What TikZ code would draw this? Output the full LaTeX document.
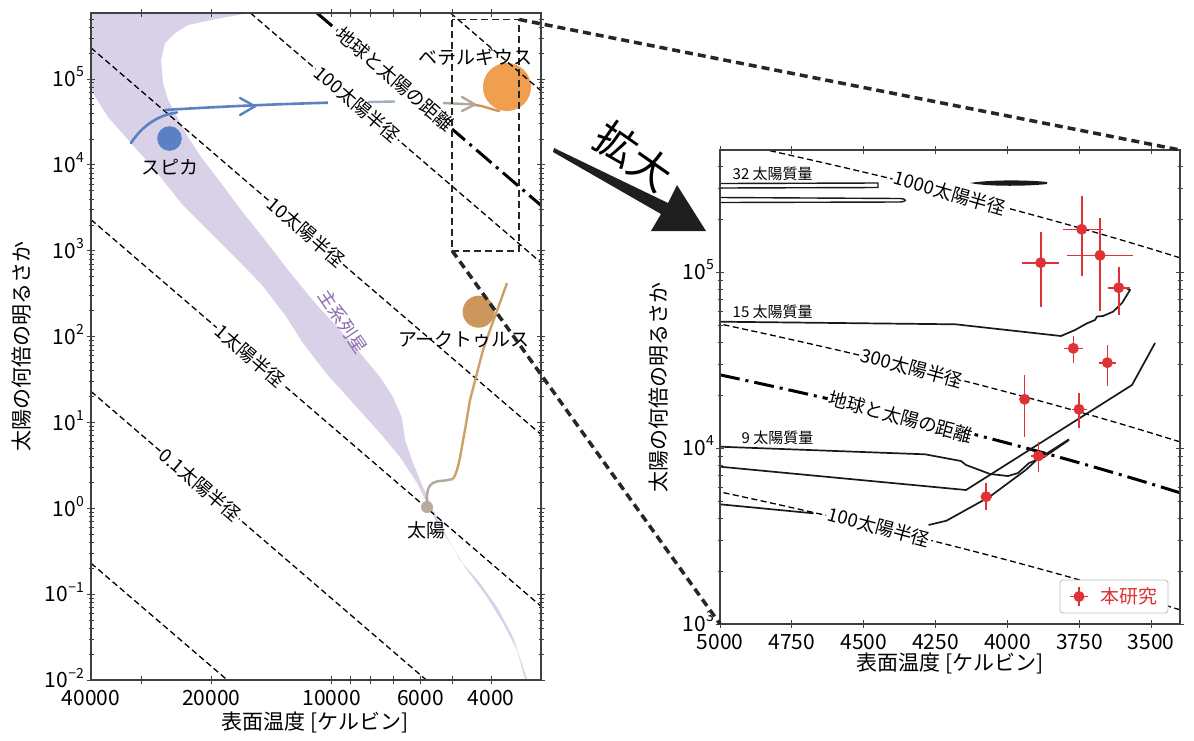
\documentclass[tikz,border=0pt]{standalone}
\usepackage{fontspec}
\setmainfont{Noto Sans CJK JP}
\newcommand\fsz[1]{\fontsize{#1}{#1}\selectfont}
\newcommand\pw[1]{10\raisebox{0.85ex}{\fsz{14}#1}}
\definecolor{msband}{RGB}{216,209,231}
\definecolor{mspurple}{RGB}{140,108,176}
\definecolor{spblue}{RGB}{92,128,196}
\definecolor{spfade}{RGB}{160,175,200}
\definecolor{betel}{RGB}{240,158,80}
\definecolor{arct}{RGB}{205,150,90}
\definecolor{suncol}{RGB}{182,172,152}
\definecolor{trgray}{RGB}{175,168,155}
\definecolor{trtan}{RGB}{205,160,105}
\definecolor{ourred}{RGB}{222,50,55}
\newcommand\datapt[6]{%
  \draw[errbar] (#3,#2) -- (#4,#2);
  \draw[errbar] (#1,#5) -- (#1,#6);
  \fill[ourred] (#1,#2) circle (5.5);}
\begin{document}
\begin{tikzpicture}[x=1pt,y=-1pt,
  radline/.style={line width=1.3pt, dash pattern=on 6pt off 3.5pt},
  earthline/.style={line width=3pt, dash pattern=on 20pt off 6pt on 3pt off 6pt},
  zoomline/.style={line width=3.5pt, dash pattern=on 8pt off 5pt, black!85},
  rectline/.style={line width=1.7pt, dash pattern=on 7pt off 4pt, black!85},
  rlab/.style={fill=white, inner sep=1.5pt, font=\fsz{18.5}},
  axisline/.style={line width=1.1pt, black!75},
  tickline/.style={line width=0.9pt, black!75},
  ticklab/.style={font=\fsz{21}, inner sep=0pt},
  starlab/.style={font=\fsz{19}},
  masslab/.style={font=\fsz{15}, anchor=west, inner sep=0pt},
  track/.style={line width=1.7pt, black!90},
  errbar/.style={line width=1.6pt, ourred},
]
\useasboundingbox (0,0) rectangle (1194,740);
\fill[white] (0,0) rectangle (1194,740);

% ================= LEFT PANEL =================
% main sequence band
\fill[msband] (91,13) -- (250,13) -- (221,18) -- (188,25) -- (175,33) -- (165,43) -- (161,60) -- (163,83) -- (168,100) -- (175,113) -- (188,137) -- (201,157) -- (221,183) -- (241,210) -- (265,240) -- (288,270) -- (315,303) -- (340,330) -- (360,353) -- (380,377) -- (393,397) -- (402,418) -- (405,440) -- (413,463) -- (423,487) -- (433,510) -- (447,537) -- (460,560) -- (480,583) -- (497,607) -- (513,637) -- (527,679) -- (525,679) -- (517,650) -- (503,623) -- (487,597) -- (467,570) -- (450,543) -- (437,523) -- (427,503) -- (417,483) -- (400,457) -- (380,433) -- (353,403) -- (326,373) -- (303,343) -- (285,315) -- (262,285) -- (235,257) -- (208,230) -- (181,203) -- (155,170) -- (131,143) -- (108,117) -- (91,90) -- cycle;
\node[font=\fsz{18}, text=mspurple, rotate=-56] (mslab) at (343,322) {主系列星};

% star circles
\fill[betel] (507,87) circle (24);
\fill[arct] (478.6,311.7) circle (16);
\fill[spblue] (169.5,138.5) circle (12.3);

% radius lines
\draw[radline] (91,563.2) -- (227.3,680);
\draw[radline] (91,391.4) -- (426.3,680);
\draw[radline] (91,219.6) -- (541,606.2);
\draw[radline] (91,47.8) -- (541,434.4);
\draw[radline] (250.5,13) -- (541,262.6);
\draw[radline] (450.5,13) -- (541,90.8);
\draw[earthline] (317,13) -- (541,205.4);

\node[rlab, rotate=-40.66] (l01) at (200,485) {0.1太陽半径};
\node[rlab, rotate=-40.66] (l1) at (250,356) {1太陽半径};
\node[rlab, rotate=-40.66] (l10) at (306,232) {10太陽半径};
\node[rlab, rotate=-40.66] (l100) at (357,104) {100太陽半径};
\node[rlab, rotate=-40.66] (learth) at (395,79.5) {地球と太陽の距離};

% sun
\fill[suncol] (427,507) circle (6);

% Spica track
\draw[spblue, line width=2.6pt, line cap=round] (131,143) .. controls (142,126) and (158,115) .. (177,112.5);
\draw[spblue, line width=2.6pt] (165,110) .. controls (220,106.5) and (280,104) .. (328,102.7);
\draw[spblue, line width=2.4pt, line cap=round, line join=round] (240,98) -- (255,106.3) -- (240,115);
\draw[spfade, line width=2.4pt] (368,102) -- (395,101.5);
\draw[trgray, line width=2.4pt] (443,103) -- (475,104.5);
\draw[trgray, line width=2.4pt, line cap=round, line join=round] (462,97) -- (475,104.5) -- (462,111);
\draw[arct, line width=2.4pt] (475,105) .. controls (485,106) and (492,110) .. (500,111);

% Arcturus track
\draw[trtan, line width=2.4pt] (453,479) .. controls (459,470) and (461,450) .. (465,430) -- (470,400) -- (477,373) -- (483,350) -- (490,330) -- (507,283);
\draw[trgray, line width=2.4pt] (427,502) .. controls (426,484) and (432,481) .. (445,480.5) -- (453,479);

% zoom rectangle
\draw[rectline] (452.2,19.5) rectangle (519.2,250.8);
\coordinate (rectTR) at (519.2,19.5);
\coordinate (rectBL) at (452.2,250.8);

% star labels
\node[starlab] (spica) at (169.7,166.7) {スピカ};
\node[starlab] (betelg) at (475,56.7) {ベテルギウス};
\node[starlab] (arcturus) at (464,340) {アークトゥルス};
\node[starlab] (sun) at (426.7,530) {太陽};

% axes box & ticks
\draw[axisline] (91,13) rectangle (541,680);
\foreach \n in {-2,...,5} {
  \pgfmathsetmacro\yy{508.5-85.9*\n}
  \draw[tickline] (87,\yy) -- (95,\yy);
  \draw[tickline] (537,\yy) -- (545,\yy);
  \foreach \k in {2,...,9} {
    \pgfmathsetmacro\ym{508.5-85.9*(\n+log10(\k))}
    \pgfmathparse{\ym>14?1:0}
    \ifnum\pgfmathresult=1
      \draw[tickline] (88.5,\ym) -- (93.5,\ym);
      \draw[tickline] (538.5,\ym) -- (543.5,\ym);
    \fi
  }
}
\foreach \t in {30,20,10,9,8,7,6,5,4} {
  \pgfmathsetmacro\xx{91+400*log10(40/\t)}
  \draw[tickline] (\xx,676) -- (\xx,684);
  \draw[tickline] (\xx,9) -- (\xx,17);
}
\node[ticklab, anchor=base east] (ly5) at (84,86.5) {\pw{5}};
\node[ticklab, anchor=base east] (ly4) at (84,172.4) {\pw{4}};
\node[ticklab, anchor=base east] (ly3) at (84,258.3) {\pw{3}};
\node[ticklab, anchor=base east] (ly2) at (84,344.3) {\pw{2}};
\node[ticklab, anchor=base east] (ly1) at (84,430.1) {\pw{1}};
\node[ticklab, anchor=base east] (ly0) at (84,516) {\pw{0}};
\node[ticklab, anchor=base east] (lym1) at (84,601.9) {\pw{−1}};
\node[ticklab, anchor=base east] (lym2) at (84,687.8) {\pw{−2}};
\node[ticklab, anchor=base] (lx1) at (91,705) {40000};
\node[ticklab, anchor=base] (lx2) at (211.4,705) {20000};
\node[ticklab, anchor=base] (lx3) at (331.8,705) {10000};
\node[ticklab, anchor=base] (lx4) at (420.6,705) {6000};
\node[ticklab, anchor=base] (lx5) at (491,705) {4000};
\node[font=\fsz{21}] (lxlab) at (315,722) {表面温度 [ケルビン]};
\node[font=\fsz{21}, rotate=90] (lylab) at (22,346) {太陽の何倍の明るさか};

% ================= ZOOM ARROW =================
\node[font=\fsz{42}, rotate=-35] (kakudai) at (634,156) {拡大};
\fill[black!88] (554,148) -- (668,203) -- (677,185) -- (706,231) -- (651,231) -- (661,214) -- (553,152) -- cycle;

% ================= RIGHT PANEL =================
\coordinate (panTR) at (1180,150);
\coordinate (panBL) at (720,624);

% radius lines (curves)
\draw[radline] plot[domain=3400:4839, samples=40] ({720+0.2875*(5000-\x)}, {624-176*(3+4*log10(\x/5772))});
\draw[radline] plot[domain=3400:5000, samples=40] ({720+0.2875*(5000-\x)}, {624-176*(1.9542+4*log10(\x/5772))});
\draw[radline] plot[domain=3400:5000, samples=40] ({720+0.2875*(5000-\x)}, {624-176*(1+4*log10(\x/5772))});
\draw[earthline] plot[domain=3400:5000, samples=40] ({720+0.2875*(5000-\x)}, {624-176*(1.6650+4*log10(\x/5772))});

\node[rlab, rotate=-16] (r1000) at (950,193) {1000太陽半径};
\node[rlab, rotate=-15] (r300) at (912,368) {300太陽半径};
\node[rlab, rotate=-15] (rearth) at (901,417) {地球と太陽の距離};
\node[rlab, rotate=-15] (r100) at (879,527) {100太陽半径};

% 32 Msun tracks
\draw[track, line width=1.4pt] (720,183.5) -- (878,183) -- (878,187.5) -- (720,188);
\draw[track, line width=1.4pt] (720,197.5) -- (900,198.5) .. controls (907,199) and (907,201.5) .. (900,202) -- (720,202.5);
\fill[black!90] (970,183) .. controls (990,179.5) and (1030,180) .. (1047,182) -- (1047,184) .. controls (1030,186) and (990,187) .. (970,183) -- cycle;
% 15 Msun
\draw[track, line join=round] (720,321.7) -- (955.5,324.3) -- (1061,336) -- (1075,330) -- (1087,323.3) -- (1095,320) -- (1097,316.5) -- (1103,316) -- (1113,311.7) -- (1122,303) -- (1130,290) -- (1126,288);
% 9 Msun
\draw[track, line join=round] (720,446.7) -- (925,454.3) -- (961,461) -- (966,465) -- (975,468.3) -- (990,474) -- (1008,476) -- (1018,473) -- (1029,463) -- (1044,457) -- (1069,440);
\draw[track, line join=round] (720,466.7) -- (966,490) -- (1132,385) -- (1155,343);
\draw[track] (720,504.3) -- (813.5,513.3);
\draw[track, line join=round] (928.6,525) -- (946.5,520.7) -- (989.7,496.7) -- (1025.7,470) -- (1036.5,460) -- (1069,439.3);

\node[masslab] (m32) at (732.5,174.3) {32 太陽質量};
\node[masslab] (m15) at (732.5,311.7) {15 太陽質量};
\node[masslab] (m9) at (741.5,438.3) {9 太陽質量};

% data points
\datapt{1040.7}{262.7}{1021.7}{1059.3}{232}{306.7}
\datapt{1081.7}{229.3}{1062.7}{1102.7}{196}{275.7}
\datapt{1100}{255.3}{1066.7}{1132.7}{218.3}{310.7}
\datapt{1118.7}{287.7}{1108}{1130}{267}{315}
\datapt{1073.3}{348.3}{1064}{1083.3}{336}{362.7}
\datapt{1107.3}{362.7}{1099}{1116}{345}{386}
\datapt{1024.6}{399.3}{1019}{1030}{375}{436.7}
\datapt{1079}{409.3}{1072.4}{1086.8}{393.3}{428.3}
\datapt{1038.3}{456}{1031}{1047}{441.7}{471.7}
\datapt{986.1}{496.7}{980.7}{991.5}{483.3}{510}

% legend
\draw[rounded corners=3pt, draw=black!25, fill=white, line width=0.8pt] (1060,580) rectangle (1168,613);
\datapt{1079}{596.5}{1070}{1088}{587}{606}
\node[font=\fsz{19}, text=ourred, anchor=west] (legtxt) at (1097,596.5) {本研究};

% axes box & ticks
\draw[axisline] (720,150) rectangle (1180,624);
\foreach \n in {3,4,5} {
  \pgfmathsetmacro\yy{624-176*(\n-3)}
  \draw[tickline] (716,\yy) -- (724,\yy);
  \draw[tickline] (1176,\yy) -- (1184,\yy);
  \foreach \k in {2,...,9} {
    \pgfmathsetmacro\ym{624-176*(\n-3+log10(\k))}
    \pgfmathparse{\ym>152?1:0}
    \ifnum\pgfmathresult=1
      \draw[tickline] (717.5,\ym) -- (722.5,\ym);
      \draw[tickline] (1177.5,\ym) -- (1182.5,\ym);
    \fi
  }
}
\foreach \t in {5000,4750,...,3500} {
  \pgfmathsetmacro\xx{720+0.2875*(5000-\t)}
  \draw[tickline] (\xx,620) -- (\xx,628);
  \draw[tickline] (\xx,146) -- (\xx,154);
  \node[ticklab, anchor=base] at (\xx,649) {\t};
}
\node[ticklab, anchor=base east] (ry3) at (714,631.5) {\pw{3}};
\node[ticklab, anchor=base east] (ry4) at (714,455.5) {\pw{4}};
\node[ticklab, anchor=base east] (ry5) at (714,279.5) {\pw{5}};
\node[font=\fsz{21}] (rxlab) at (950,663) {表面温度 [ケルビン]};
\node[font=\fsz{21}, rotate=90] (rylab) at (659,387) {太陽の何倍の明るさか};

% zoom connector lines
\draw[zoomline] (rectTR) -- (panTR);
\draw[zoomline] (rectBL) -- (panBL);
\end{tikzpicture}
\end{document}
